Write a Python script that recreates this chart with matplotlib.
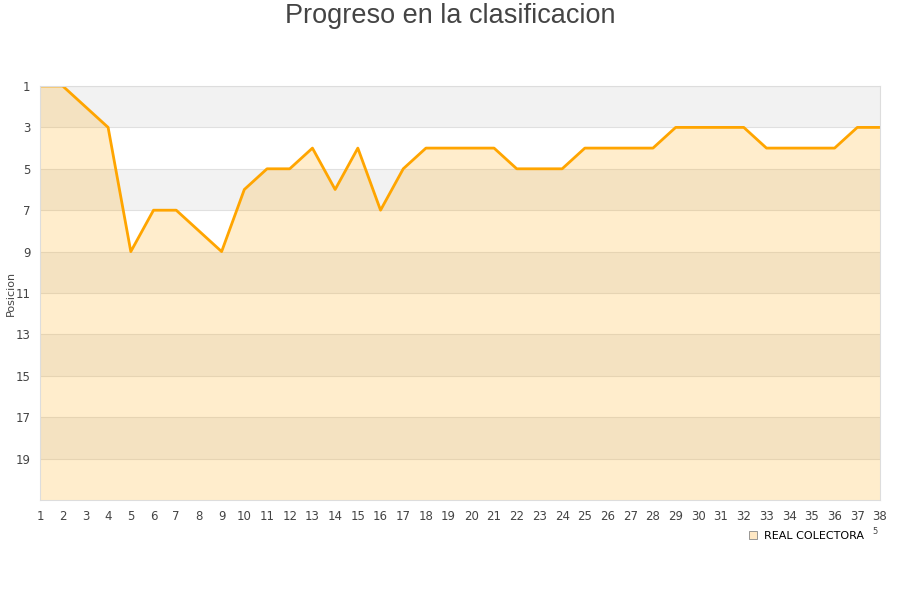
import matplotlib
matplotlib.use("Agg")
import matplotlib.pyplot as plt
from matplotlib.lines import Line2D

# data
rounds = list(range(1, 39))
positions = [1, 1, 2, 3, 9, 7, 7, 8, 9, 6,
             5, 5, 4, 6, 4, 7, 5, 4, 4, 4,
             4, 5, 5, 5, 4, 4, 4, 4, 3, 3,
             3, 3, 4, 4, 4, 4, 3, 3]
team = "REAL COLECTORA"
y_ticks = list(range(1, 20, 2))

fig = plt.figure(figsize=(9, 6), dpi=100)
ax = fig.add_axes([40 / 900, 1 - 500 / 600, 840 / 900, 414 / 600])

# alternating bands
for i, lo in enumerate(range(1, 21, 2)):
    ax.axhspan(lo, lo + 2, color="#f2f2f2" if i % 2 == 0 else "white", lw=0, zorder=0)
    ax.axhline(lo, color="#e0e0e0", lw=0.8, zorder=0.5)

ax.fill_between(rounds, positions, 21, color="#ffa500", alpha=0.2, lw=0, zorder=1)
ax.plot(rounds, positions, color="#ffa500", lw=2, zorder=2)

ax.set_xlim(1, 38)
ax.set_ylim(21, 1)
ax.set_xticks(rounds)
ax.set_yticks(y_ticks)
ax.tick_params(length=0, labelsize=8.5, colors="#444444", pad=7)
for s in ax.spines.values():
    s.set_color("#dddddd")
ax.set_ylabel("Posicion", fontsize=8, color="#444444")
ax.yaxis.set_label_coords(-24 / 840, 0.5)

fig.text(0.5, 1 - 16 / 600, "Progreso en la clasificacion", ha="center", va="center",
         fontsize=19.5, color="#444444", family="Liberation Sans")

handle = Line2D([], [], marker="s", ls="none", markersize=6,
                markerfacecolor="#ffe8c4", markeredgecolor="#888888", markeredgewidth=0.6)
fig.legend([handle], [team], loc="center left", bbox_to_anchor=(742 / 900, 1 - 536 / 600),
           frameon=False, fontsize=8, handletextpad=0.5, borderpad=0, handlelength=1)
fig.text(875 / 900, 1 - 532 / 600, "5", fontsize=6, color="#444444", ha="center", va="center")

fig.savefig("out.png", dpi=100)
